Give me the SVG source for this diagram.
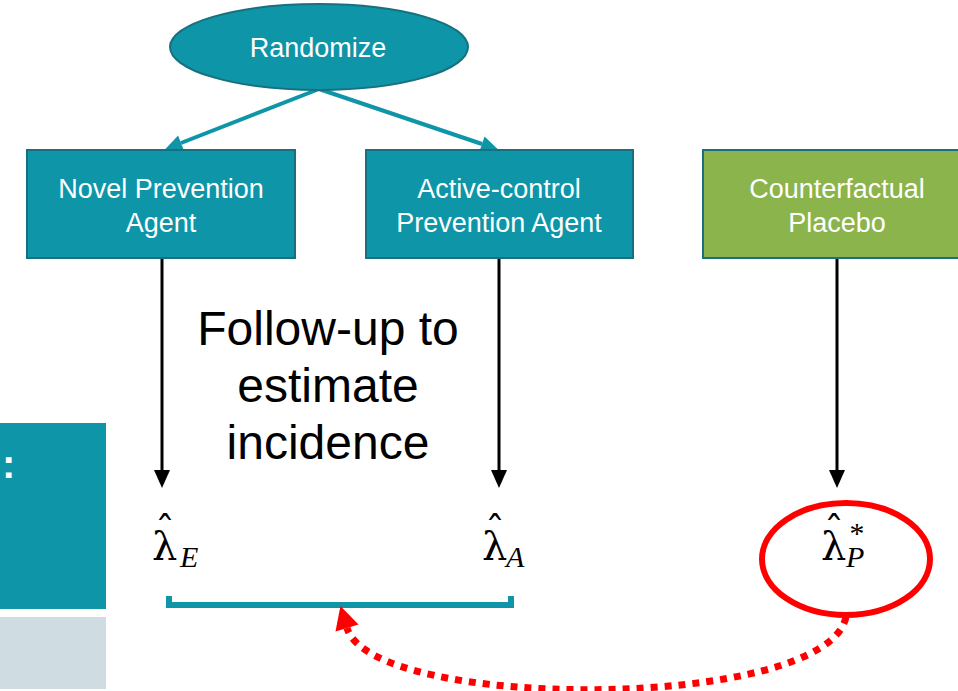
<svg xmlns="http://www.w3.org/2000/svg" width="958" height="691" viewBox="0 0 958 691">
<defs>
<style>
.node{fill:#0E95A8;stroke:#17707F;stroke-width:2}
.green{fill:#8BB44C;stroke:#1B6F80;stroke-width:2}
.nt{font-family:"Liberation Sans",Arial,sans-serif;font-size:27px;fill:#FFFFFF;text-anchor:middle}
.big{font-family:"Liberation Sans",Arial,sans-serif;font-size:48px;fill:#000000;text-anchor:middle}
.lam{font-family:"DejaVu Serif",serif;font-size:40px;fill:#000000}
.sub{font-family:"Liberation Serif","DejaVu Serif",serif;font-size:30px;font-style:italic}
.teal{stroke:#0E95A8;stroke-width:4;fill:none}
.blk{stroke:#000000;stroke-width:3;fill:none}
</style>
<marker id="tealHead" markerUnits="userSpaceOnUse" markerWidth="18" markerHeight="16" refX="0" refY="8" orient="auto" overflow="visible">
<path d="M0,0 L17,8 L0,16 z" fill="#0E95A8"/>
</marker>
<marker id="blkHead" markerUnits="userSpaceOnUse" markerWidth="18" markerHeight="16" refX="0" refY="8" orient="auto" overflow="visible">
<path d="M0,0 L18,8 L0,16 z" fill="#000000"/>
</marker>
<marker id="redHead" markerUnits="userSpaceOnUse" markerWidth="24" markerHeight="24" refX="0" refY="12" orient="auto" overflow="visible">
<path d="M0,0 L23,12 L0,24 z" fill="#FF0000"/>
</marker>
</defs>
<rect width="958" height="691" fill="#FFFFFF"/>

<g id="side-panel">
<rect x="-2" y="423" width="108" height="186" fill="#0E95A8"/>
<text x="2" y="478" font-family="Liberation Sans,Arial,sans-serif" font-size="40" font-weight="bold" fill="#FFFFFF">:</text>
<rect x="-2" y="617" width="108" height="72" fill="#CFDDE2"/>
</g>

<g id="connectors">
<line class="teal" x1="319" y1="89" x2="181" y2="143" marker-end="url(#tealHead)"/>
<line class="teal" x1="319" y1="89" x2="482" y2="144" marker-end="url(#tealHead)"/>
<line class="blk" x1="162" y1="258" x2="162" y2="470" marker-end="url(#blkHead)"/>
<line class="blk" x1="499" y1="258" x2="499" y2="470" marker-end="url(#blkHead)"/>
<line class="blk" x1="837" y1="258" x2="837" y2="470" marker-end="url(#blkHead)"/>
<path d="M169 596 L169 605 L511 605 L511 596" fill="none" stroke="#0E95A8" stroke-width="6"/>
<path d="M846 617 C826 712, 372 712, 347 628" fill="none" stroke="#FF0000" stroke-width="7" stroke-dasharray="7 7" marker-end="url(#redHead)"/>
</g>

<g id="randomize">
<ellipse class="node" cx="319" cy="47" rx="149" ry="43"/>
<text class="nt" x="318" y="57" font-size="30">Randomize</text>
</g>

<g id="novel">
<rect class="node" x="27" y="150" width="268" height="108"/>
<text class="nt" x="161" y="198">Novel Prevention</text>
<text class="nt" x="161" y="232">Agent</text>
</g>

<g id="active">
<rect class="node" x="366" y="150" width="267" height="108"/>
<text class="nt" x="499" y="198">Active-control</text>
<text class="nt" x="499" y="232">Prevention Agent</text>
</g>

<g id="placebo">
<rect class="green" x="703" y="150" width="268" height="108"/>
<text class="nt" x="837" y="198">Counterfactual</text>
<text class="nt" x="837" y="232">Placebo</text>
</g>

<g id="followup">
<text class="big" x="328" y="345">Follow-up to</text>
<text class="big" x="328" y="402">estimate</text>
<text class="big" x="328" y="459">incidence</text>
</g>

<g id="lambdaE">
<text class="lam" x="152" y="560">λ<tspan x="155" y="544">ˆ</tspan><tspan class="sub" x="180" y="567">E</tspan></text>
</g>

<g id="lambdaA">
<text class="lam" x="482" y="560">λ<tspan x="485" y="544">ˆ</tspan><tspan class="sub" x="506" y="567">A</tspan></text>
</g>

<g id="lambdaP">
<ellipse cx="846" cy="559" rx="84" ry="56" fill="none" stroke="#FF0000" stroke-width="6"/>
<text class="lam" x="821" y="560">λ<tspan x="824" y="544">ˆ</tspan><tspan class="sub" font-style="normal" font-size="24" x="848" y="543">*</tspan><tspan class="sub" x="846" y="567">P</tspan></text>
</g>
</svg>
